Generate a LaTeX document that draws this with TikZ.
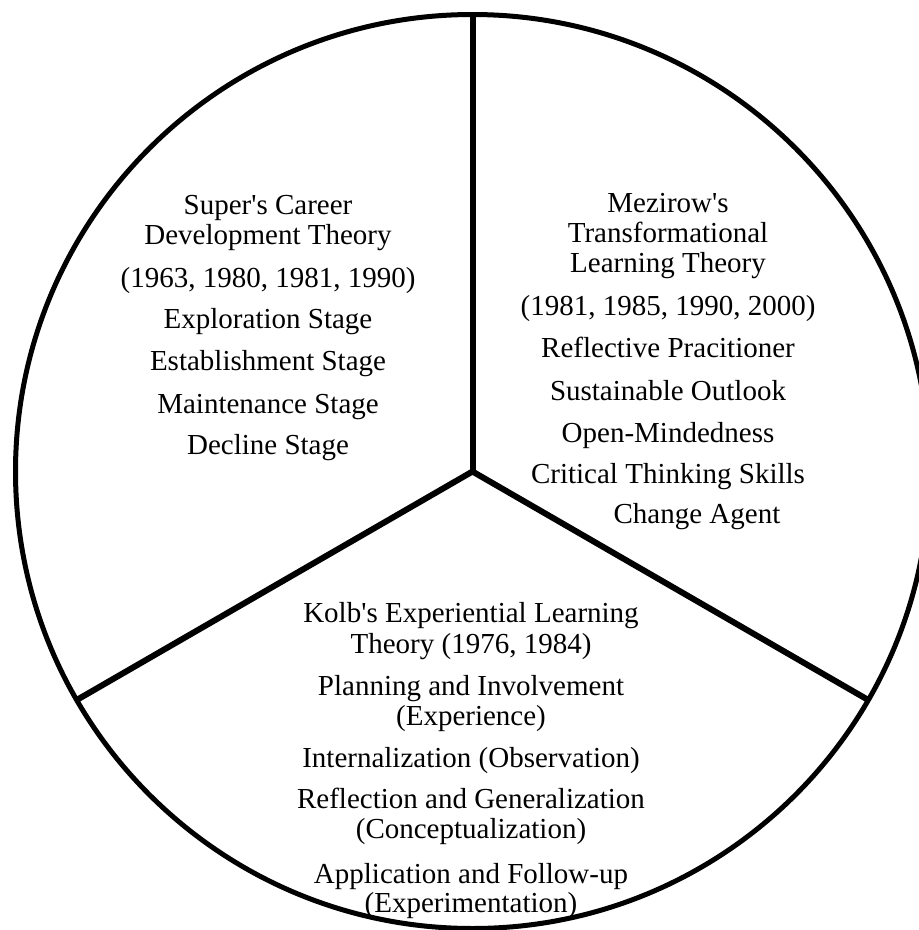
\documentclass[tikz,border=0pt]{standalone}
\usepackage{fontspec}
\setmainfont{Liberation Serif}[Ligatures=TeXOff]
\begin{document}
\begin{tikzpicture}[x=1pt,y=-1pt,
  lbl/.style={anchor=base,inner sep=0pt,outer sep=0pt,font=\fontsize{29}{30}\selectfont},
  rim/.style={line width=5pt},
  spoke/.style={line width=6pt}]
\useasboundingbox (0,0) rectangle (919,930);
\clip (0,0) rectangle (919,930);
\fill[white] (0,0) rectangle (919,930);
\coordinate (O) at (472.5,471.5);
\coordinate (T) at (472.5,14.5);
\coordinate (L) at (76.7,700);
\coordinate (R) at (868.3,700);
\draw[rim] (O) circle[radius=457];
\draw[spoke] (O) -- (T);
\draw[spoke] (O) -- (L);
\draw[spoke] (O) -- (R);
% left block
\node[lbl] (s1) at (268,214) {Super's Career};
\node[lbl] (s2) at (268,244) {Development Theory};
\node[lbl] (s3) at (268,287) {(1963, 1980, 1981, 1990)};
\node[lbl] (s4) at (268,328) {Exploration Stage};
\node[lbl] (s5) at (268,370) {Establishment Stage};
\node[lbl] (s6) at (268,413) {Maintenance Stage};
\node[lbl] (s7) at (268,454) {Decline Stage};
% right block
\node[lbl] (m1) at (668,212) {Mezirow's};
\node[lbl] (m2) at (668,242) {Transformational};
\node[lbl] (m3) at (668,272) {Learning Theory};
\node[lbl] (m4) at (668,315) {(1981, 1985, 1990, 2000)};
\node[lbl] (m5) at (668,357) {Reflective Pracitioner};
\node[lbl] (m6) at (668,400) {Sustainable Outlook};
\node[lbl] (m7) at (668,442) {Open-Mindedness};
\node[lbl] (m8) at (668,483) {Critical Thinking Skills};
\node[lbl] (m9) at (697,523) {Change Agent};
% bottom block
\node[lbl] (k1) at (471,622) {Kolb's Experiential Learning};
\node[lbl] (k2) at (471,653) {Theory (1976, 1984)};
\node[lbl] (k3) at (471,695) {Planning and Involvement};
\node[lbl] (k4) at (471,725) {(Experience)};
\node[lbl] (k5) at (471,767) {Internalization (Observation)};
\node[lbl] (k6) at (471,808) {Reflection and Generalization};
\node[lbl] (k7) at (471,838) {(Conceptualization)};
\node[lbl] (k8) at (471,883) {Application and Follow-up};
\node[lbl] (k9) at (471,912) {(Experimentation)};
\end{tikzpicture}
\end{document}
